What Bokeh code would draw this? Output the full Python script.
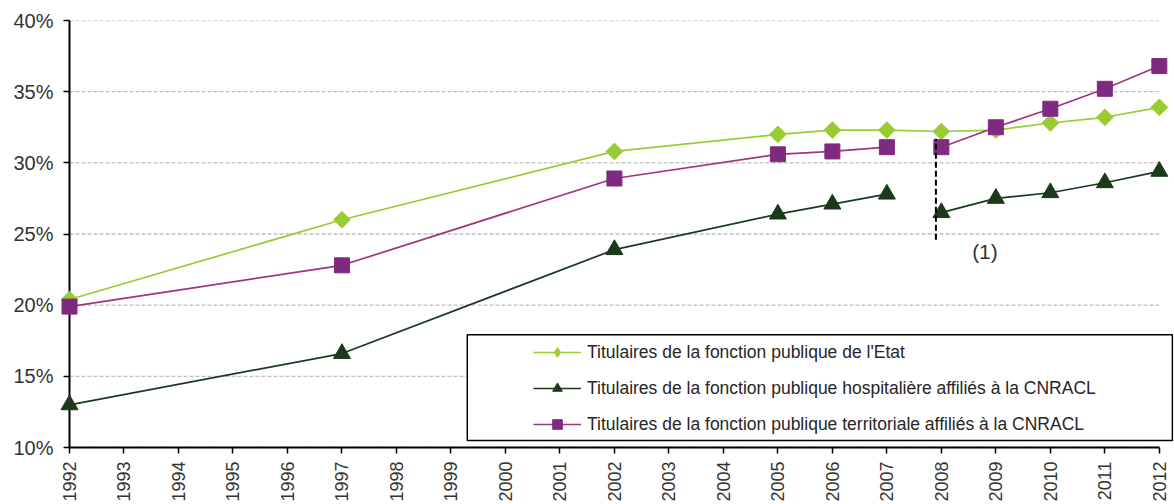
import math
from bokeh.plotting import figure
from bokeh.models import (Range1d, FixedTicker, PrintfTickFormatter, Legend,
                          LegendItem, BoxAnnotation, Label)
from bokeh.embed import file_html
from bokeh.resources import INLINE

# ---- data -------------------------------------------------------------
years = [1992, 1997, 2002, 2005, 2006, 2007, 2008, 2009, 2010, 2011, 2012]
etat = [20.4, 26.0, 30.8, 32.0, 32.3, 32.3, 32.2, 32.3, 32.8, 33.2, 33.9]
hospitaliere = [13.0, 16.6, 23.9, 26.4, 27.1, 27.8, 26.5, 27.5, 27.9, 28.6, 29.4]
territoriale = [19.9, 22.8, 28.9, 30.6, 30.8, 31.1, 31.1, 32.5, 33.8, 35.2, 36.8]

label_etat = "Titulaires de la fonction publique de l'Etat"
label_hosp = "Titulaires de la fonction publique hospitalière affiliés à la CNRACL"
label_terr = "Titulaires de la fonction publique territoriale affiliés à la CNRACL"

x_ticks = [1992, 1993, 1994, 1995, 1996, 1997, 1998, 1999, 2000, 2001, 2002,
           2003, 2004, 2005, 2006, 2007, 2008, 2009, 2010, 2011, 2012]
y_ticks = [10, 15, 20, 25, 30, 35, 40]
break_year = 2008          # series break for CNRACL (1)
note_text = "(1)"

# ---- styles -----------------------------------------------------------
FONT = "Liberation Sans"
C_ETAT = "#99CC33"
C_HOSP = "#1B3A1B"
C_TERR_LINE = "#A0357E"
C_TERR = "#7F2A80"

p = figure(width=1174, height=504,
           x_range=Range1d(x_ticks[0], x_ticks[-1] + 0.26),
           y_range=Range1d(y_ticks[0], y_ticks[-1]),
           output_backend="svg", toolbar_location=None,
           min_border_left=69, min_border_right=1,
           min_border_top=20, min_border_bottom=56)
p.outline_line_color = None
p.background_fill_color = "white"
p.border_fill_color = "white"

# horizontal dashed grid limited to the axis span
p.xgrid.visible = False
p.ygrid.visible = False
p.segment(x0=[x_ticks[0]] * len(y_ticks), x1=[x_ticks[-1]] * len(y_ticks),
          y0=y_ticks, y1=y_ticks, line_color="#BFBFBF", line_dash="4 2",
          line_width=1.3, level="underlay")

for ax in (p.xaxis[0], p.yaxis[0]):
    ax.axis_line_color = "black"
    ax.axis_line_width = 2
    ax.major_tick_line_color = "black"
    ax.major_tick_line_width = 1.5
    ax.major_tick_in = 0
    ax.major_tick_out = 6
    ax.minor_tick_line_color = None
    ax.major_label_text_font = FONT
    ax.major_label_text_color = "#333333"

p.xaxis.ticker = FixedTicker(ticks=x_ticks)
p.xaxis.bounds = (x_ticks[0], x_ticks[-1])
p.xaxis.major_label_orientation = math.pi / 2
p.xaxis.major_label_text_font_size = "18px"
p.xaxis.major_label_standoff = 8

p.yaxis.ticker = FixedTicker(ticks=y_ticks)
p.yaxis.formatter = PrintfTickFormatter(format="%d%%")
p.yaxis.major_label_text_font_size = "20px"
p.yaxis.major_label_standoff = 10

# ---- series -----------------------------------------------------------
def split(xs, ys, brk):
    a = [(x, y) for x, y in zip(xs, ys) if x < brk]
    b = [(x, y) for x, y in zip(xs, ys) if x >= brk]
    return ([x for x, _ in a], [y for _, y in a]), ([x for x, _ in b], [y for _, y in b])

# Etat: continuous, rhombus markers (rotated squares)
l_etat = p.line(years, etat, line_color=C_ETAT, line_width=1.7)
p.scatter(years, etat, marker="square", angle=math.pi / 4, size=11.8,
          fill_color=C_ETAT, line_color=C_ETAT, level="overlay")
# legend-only glyph (hidden in the plot)
s_etat_leg = p.scatter(years, etat, marker="diamond", size=16,
                       fill_color=C_ETAT, line_color=C_ETAT, visible=False)

# Hospitaliere: broken at 2008
(hx1, hy1), (hx2, hy2) = split(years, hospitaliere, break_year)
l_hosp = p.line(hx1, hy1, line_color=C_HOSP, line_width=1.7)
p.line(hx2, hy2, line_color=C_HOSP, line_width=1.7)
s_hosp = p.scatter(years, hospitaliere, marker="triangle", size=17,
                   fill_color=C_HOSP, line_color=C_HOSP, level="overlay")

# Territoriale: broken at 2008
(tx1, ty1), (tx2, ty2) = split(years, territoriale, break_year)
l_terr = p.line(tx1, ty1, line_color=C_TERR_LINE, line_width=1.7)
p.line(tx2, ty2, line_color=C_TERR_LINE, line_width=1.7)
s_terr = p.scatter(years, territoriale, marker="square", size=15,
                   fill_color=C_TERR, line_color=C_TERR, level="overlay")

# ---- break annotation -------------------------------------------------
p.segment(x0=[break_year - 0.1], y0=[24.6], x1=[break_year - 0.1], y1=[31.7],
          line_color="black", line_width=2, line_dash="6 3", level="overlay")
p.add_layout(Label(x=break_year + 0.8, y=23.8, text=note_text,
                   text_align="center", text_baseline="middle",
                   text_font=FONT, text_font_size="21px", text_color="#333333"))

# ---- legend -----------------------------------------------------------
box = BoxAnnotation(left=1999.30, right=2012.24, bottom=10.49, top=17.92,
                    fill_color="white", fill_alpha=1.0,
                    line_color="black", line_width=1.5, line_alpha=1.0)
p.add_layout(box)

legend = Legend(items=[LegendItem(label=label_etat, renderers=[l_etat, s_etat_leg]),
                       LegendItem(label=label_hosp, renderers=[l_hosp, s_hosp]),
                       LegendItem(label=label_terr, renderers=[l_terr, s_terr])],
                location=(464, 11), padding=0, margin=0,
                glyph_width=48, glyph_height=24, label_height=24, spacing=12,
                label_standoff=6, border_line_color=None,
                background_fill_alpha=0,
                label_text_font=FONT, label_text_font_size="17.5px",
                label_text_color="#262626")
p.add_layout(legend)

open("out.html", "w").write(file_html(p, INLINE))
